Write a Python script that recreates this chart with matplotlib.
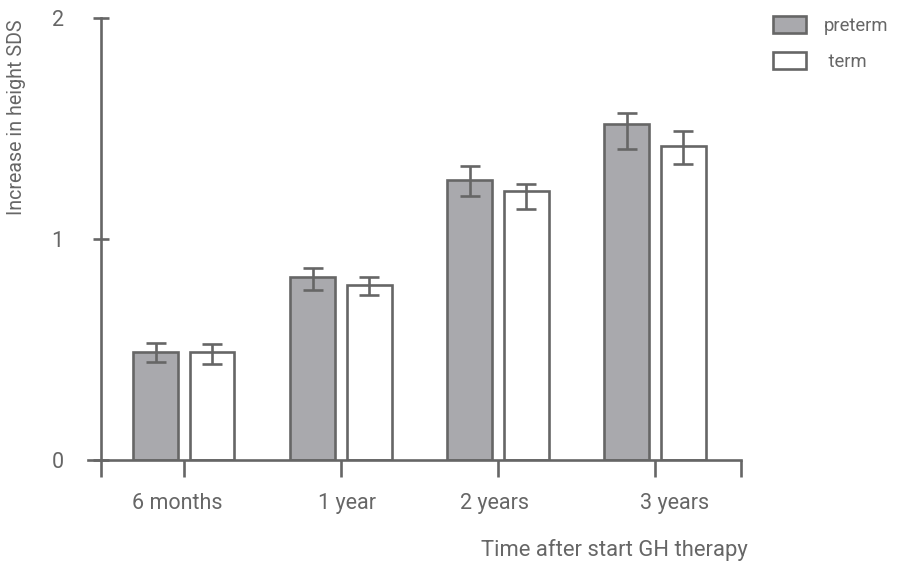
import matplotlib
matplotlib.use("Agg")
import matplotlib.pyplot as plt
from matplotlib.patches import Patch
import numpy as np

# Mean increase in height SDS with error ranges, per time point
categories = ["6 months", "1 year", "2 years", "3 years"]
preterm = [0.49, 0.83, 1.265, 1.52]
preterm_hi = [0.53, 0.87, 1.33, 1.57]
preterm_lo = [0.445, 0.77, 1.195, 1.405]
term = [0.49, 0.79, 1.215, 1.42]
term_hi = [0.525, 0.83, 1.25, 1.49]
term_lo = [0.435, 0.745, 1.135, 1.34]
series_labels = ["preterm", " term"]
y_ticks = [0, 1, 2]

GREY = "#666666"
FILL = "#a9a9ad"
plt.rcParams["font.family"] = ["Roboto", "DejaVu Sans"]

fig = plt.figure(figsize=(9, 5.62), dpi=100)
ax = fig.add_axes([88 / 900, 1 - 460 / 562, (743 - 88) / 900, (460 - 18) / 562])

x = np.arange(len(categories))
off = 0.18
w = 0.285

def err(mean, lo, hi):
    return [np.array(mean) - np.array(lo), np.array(hi) - np.array(mean)]

ax.bar(x - off, preterm, w, color=FILL, edgecolor=GREY, linewidth=1.9, zorder=2)
ax.bar(x + off, term, w, color="white", edgecolor=GREY, linewidth=1.9, zorder=2)
ax.errorbar(x - off, preterm, yerr=err(preterm, preterm_lo, preterm_hi), fmt="none",
            ecolor=GREY, elinewidth=1.9, capsize=7.5, capthick=1.9, zorder=3)
ax.errorbar(x + off, term, yerr=err(term, term_lo, term_hi), fmt="none",
            ecolor=GREY, elinewidth=1.9, capsize=7.5, capthick=1.9, zorder=3)

ax.set_xlim(-0.61, 3.56)
ax.set_ylim(0, 2)

for s in ["top", "right"]:
    ax.spines[s].set_visible(False)
ax.spines["left"].set_position(("data", -0.53))
ax.spines["left"].set_bounds(0, 2)
ax.spines["bottom"].set_bounds(-0.61, 3.55)
for s in ["left", "bottom"]:
    ax.spines[s].set_color(GREY)
    ax.spines[s].set_linewidth(1.9)

# y axis
ax.set_yticks(y_ticks)
ax.set_yticklabels([str(v) for v in y_ticks])
ax.tick_params(axis="y", direction="inout", length=11, width=1.9, color=GREY,
               labelcolor=GREY, labelsize=15.5, pad=21)

# x axis: tick marks at group centres and ends, labels placed separately
ax.set_xticks([-0.53, 0, 1, 2, 3, 3.55], minor=True)
ax.tick_params(axis="x", which="minor", direction="out", length=12, width=1.9, color=GREY)
label_pos = [-0.04, 1.04, 1.98, 3.125]
ax.set_xticks(label_pos)
ax.set_xticklabels(categories)
ax.tick_params(axis="x", which="major", length=0, pad=24, labelcolor=GREY, labelsize=15.5)

fig.text(748 / 900, 1 - 550 / 562, "Time after start GH therapy", ha="right", va="center",
         color=GREY, fontsize=15.8)
fig.text(17 / 900, 1 - 117 / 562, "Increase in height SDS", rotation=90, ha="center",
         va="center", color=GREY, fontsize=14.1)

handles = [Patch(facecolor=FILL, edgecolor=GREY, linewidth=1.9),
           Patch(facecolor="white", edgecolor=GREY, linewidth=1.9)]
fig.legend(handles, series_labels, loc="upper left", bbox_to_anchor=(756 / 900, 1 - 0 / 562),
           frameon=False, fontsize=13.2, labelcolor=GREY, handlelength=1.8, handleheight=1.0,
           labelspacing=0.95, handletextpad=1.0)

fig.savefig("out.png", dpi=100)
